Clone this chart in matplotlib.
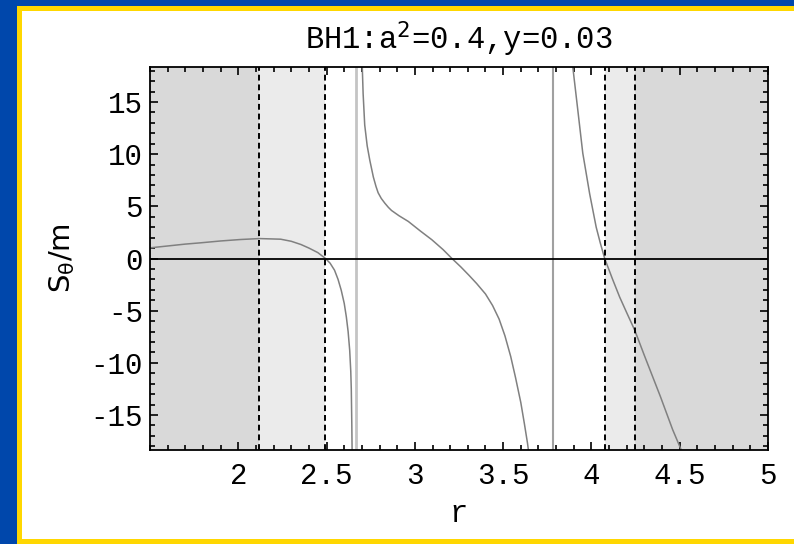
import matplotlib.pyplot as plt
from matplotlib.patches import Rectangle
from matplotlib.ticker import MultipleLocator

# S_theta/m along r, split at the poles
r_left = [1.5, 1.6, 1.7, 1.785, 1.9, 2.013, 2.12, 2.24, 2.3, 2.355, 2.4, 2.45, 2.494,
          2.52, 2.545, 2.565, 2.583, 2.6, 2.612, 2.622, 2.631, 2.637, 2.64, 2.643, 2.645]
s_left = [1.02, 1.2, 1.38, 1.5, 1.68, 1.82, 1.91, 1.85, 1.65, 1.34, 1.0, 0.57, 0.0,
          -0.45, -1.12, -2.0, -3.04, -4.3, -5.6, -7.0, -8.8, -10.8, -12.5, -16.0, -19.0]

r_mid = [2.701, 2.707, 2.716, 2.73, 2.745, 2.765, 2.78, 2.792, 2.81, 2.83, 2.85, 2.868,
         2.91, 2.963, 3.03, 3.096, 3.16, 3.21, 3.26, 3.306, 3.35, 3.4, 3.44, 3.477,
         3.51, 3.543, 3.57, 3.6, 3.62, 3.638, 3.648]
s_mid = [19.0, 15.8, 12.8, 10.8, 9.4, 7.8, 6.9, 6.3, 5.75, 5.3, 4.9, 4.6,
         4.1, 3.55, 2.65, 1.8, 0.85, 0.0, -0.8, -1.6, -2.4, -3.4, -4.5, -5.8,
         -7.4, -9.4, -11.4, -13.8, -15.8, -17.7, -19.0]

r_right = [3.89, 3.923, 3.951, 3.99, 4.027, 4.05, 4.075, 4.12, 4.16, 4.2, 4.246, 4.3,
           4.39, 4.46, 4.525]
s_right = [19.0, 14.2, 10.1, 6.2, 3.0, 1.5, 0.0, -2.0, -3.7, -5.2, -6.9, -9.3,
           -13.2, -16.4, -19.0]

# region boundaries (dashed) and pole markers (solid grey)
r_bounds = [2.12, 2.49, 4.075, 4.246]
r_poles = [2.665, 3.78]

x_ticks = [2, 2.5, 3, 3.5, 4, 4.5, 5]
x_labels = ["2", "2.5", "3", "3.5", "4", "4.5", "5"]
y_ticks = [-15, -10, -5, 0, 5, 10, 15]

W, H = 794, 544
fig = plt.figure(figsize=(W / 100, H / 100), dpi=100)
fig.patch.set_facecolor("#0047ab")

# slide panel: yellow border, white inside
fig.patches.append(Rectangle((17 / W, 0), 1, 1 - 6 / H, transform=fig.transFigure,
                             facecolor="#ffd700", edgecolor="none", zorder=-2))
fig.patches.append(Rectangle((22 / W, 5 / H), 1, 1 - 16 / H, transform=fig.transFigure,
                             facecolor="white", edgecolor="none", zorder=-1))

ax = fig.add_axes([150 / W, 1 - 450 / H, 618 / W, 383 / H])
ax.set_xlim(1.5, 5)
ax.set_ylim(-18.35, 18.35)

ax.axvspan(1.5, r_bounds[0], color="#d9d9d9", lw=0, zorder=0)
ax.axvspan(r_bounds[0], r_bounds[1], color="#ebebeb", lw=0, zorder=0)
ax.axvspan(r_bounds[2], r_bounds[3], color="#ebebeb", lw=0, zorder=0)
ax.axvspan(r_bounds[3], 5, color="#d9d9d9", lw=0, zorder=0)

ax.axvline(r_poles[0], color="#c4c4c4", lw=2, zorder=1)
ax.axvline(r_poles[1], color="#a0a0a0", lw=1.5, zorder=1)

for rx, sy in [(r_left, s_left), (r_mid, s_mid), (r_right, s_right)]:
    ax.plot(rx, sy, color="#808080", lw=1.1, zorder=2, solid_joinstyle="round")

ax.axhline(0, color="black", lw=1.3, zorder=3)
for b in r_bounds:
    ax.axvline(b, color="black", lw=1.4, linestyle=(0, (3, 2)), zorder=3)

mono = "Liberation Mono"
ax.set_xticks(x_ticks)
ax.set_xticklabels(x_labels, family=mono, fontsize=21)
ax.set_yticks(y_ticks)
ax.set_yticklabels([str(v) for v in y_ticks], family=mono, fontsize=21)
ax.xaxis.set_minor_locator(MultipleLocator(0.1))
ax.yaxis.set_minor_locator(MultipleLocator(1))
ax.tick_params(which="both", direction="in", top=True, right=True, width=1.2, color="black")
ax.tick_params(which="major", length=6)
ax.tick_params(which="minor", length=3.5)
ax.tick_params(axis="x", which="major", pad=9)
ax.tick_params(axis="y", which="major", pad=5)
for sp in ax.spines.values():
    sp.set_linewidth(1.3)

ax.set_title(r"BH1:a$^2$=0.4,y=0.03", family=mono, fontsize=22, pad=13)
ax.set_xlabel("r", family=mono, fontsize=22, labelpad=6)
ax.set_ylabel(r"$\mathregular{S_\theta}$/m", fontsize=21, labelpad=10)

fig.savefig("out.png", dpi=100, facecolor=fig.get_facecolor())
